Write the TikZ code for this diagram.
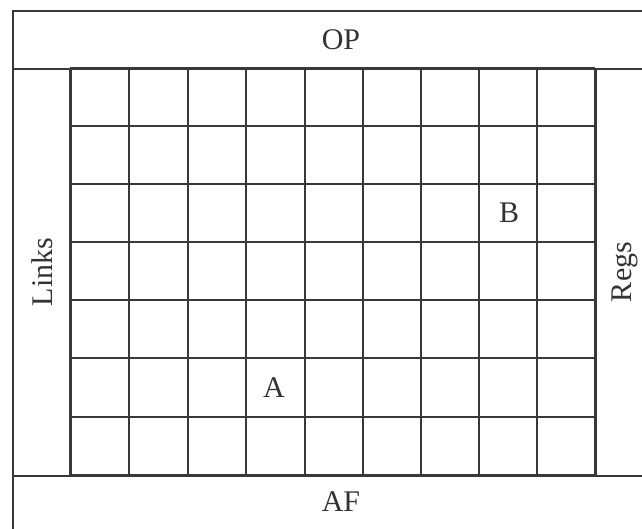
\documentclass[tikz,border=0pt]{standalone}
\usepackage{fontspec}
\setmainfont{Liberation Serif}
\begin{document}
\begin{tikzpicture}[x=1pt,y=-1pt,
  ln/.style={draw=black!78, line width=1.5pt},
  band/.style={ln, rectangle, anchor=north west, inner sep=0pt},
  lbl/.style={font=\fontsize{30}{34}\selectfont, text=black!80, inner sep=0pt}]
\useasboundingbox (0,0) rectangle (642,528);
\clip (0,0) rectangle (642,528);
% bands
\node[band, minimum width=660pt, minimum height=58pt] (op) at (12,10) {};
\node[band, minimum width=58pt, minimum height=407pt] (links) at (12,68) {};
\node[band, minimum width=80pt, minimum height=407pt] (regs) at (595,68) {};
\node[band, minimum width=660pt, minimum height=80pt] (af) at (12,475) {};
% grid
\foreach \x in {70,129,188,246,305,363,421,479,537,595} {
  \draw[ln] (\x,68) -- (\x,475);
}
\foreach \y in {68,126,184,242,300,358,417,475} {
  \draw[ln] (70,\y) -- (595,\y);
}
% labels
\node[lbl] (opl) at (341,40) {OP};
\node[lbl] (afl) at (341,502) {AF};
\node[lbl, rotate=90] (linksl) at (42,272) {Links};
\node[lbl, rotate=90] (regsl) at (625,272) {Regs};
\node[lbl] (a) at (274,388) {A};
\node[lbl] (b) at (509,213) {B};
\end{tikzpicture}
\end{document}
